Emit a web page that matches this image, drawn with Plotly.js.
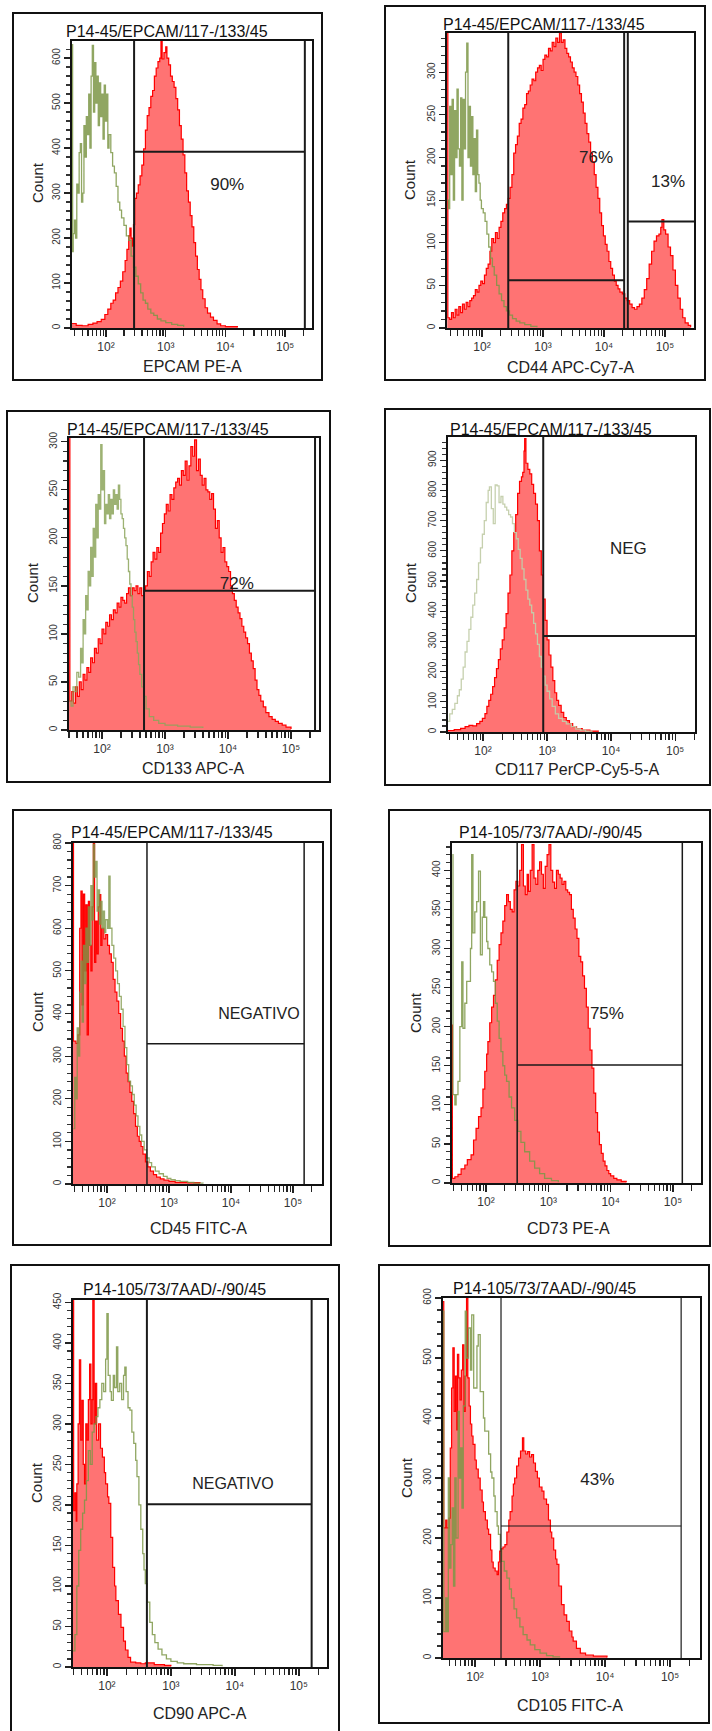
<!DOCTYPE html>
<html>
<head>
<meta charset="utf-8">
<script src="https://cdn.plot.ly/plotly-3.0.1.min.js"></script>
<style>
html,body{margin:0;padding:0;background:#fff;}
#chart{width:712px;height:1731px;}
</style>
</head>
<body>
<div id="chart"></div>
<script>
// ---------- DATA (x = log10 of fluorescence, y = count) ----------
const epcamStained = [[1.43,10],[1.5,6],[1.6,5],[1.7,8],[1.78,11],[1.85,14],[1.92,19],[1.98,30],[2.03,42],[2.08,55],[2.12,62],[2.16,78],[2.2,90],[2.24,104],[2.28,125],[2.32,150],[2.35,175],[2.38,205],[2.4,222],[2.42,200],[2.44,182],[2.46,230],[2.48,288],[2.51,300],[2.54,318],[2.57,338],[2.6,362],[2.63,398],[2.66,440],[2.69,472],[2.72,490],[2.75,515],[2.78,528],[2.81,560],[2.84,578],[2.87,592],[2.9,600],[2.92,640],[2.94,598],[2.97,612],[3.0,625],[3.02,600],[3.05,585],[3.08,560],[3.11,548],[3.14,535],[3.17,510],[3.2,485],[3.23,450],[3.26,420],[3.29,385],[3.32,345],[3.35,305],[3.38,280],[3.41,250],[3.44,225],[3.47,190],[3.5,160],[3.53,130],[3.56,108],[3.59,85],[3.62,65],[3.66,45],[3.7,33],[3.75,24],[3.8,17],[3.86,9],[3.92,5],[4.0,3],[4.2,1]];
const epcamIsotype = [[1.43,630],[1.44,170],[1.45,210],[1.47,240],[1.49,200],[1.51,320],[1.53,300],[1.55,390],[1.57,410],[1.59,280],[1.61,300],[1.63,450],[1.65,380],[1.67,470],[1.69,430],[1.71,520],[1.73,400],[1.75,560],[1.77,628],[1.79,480],[1.81,590],[1.83,500],[1.85,560],[1.87,450],[1.89,545],[1.91,470],[1.93,520],[1.95,420],[1.97,540],[1.99,460],[2.01,520],[2.03,400],[2.05,430],[2.08,390],[2.11,360],[2.14,345],[2.17,315],[2.2,280],[2.23,262],[2.26,245],[2.3,228],[2.34,205],[2.38,195],[2.42,160],[2.46,135],[2.5,115],[2.54,98],[2.58,78],[2.62,62],[2.66,55],[2.7,42],[2.75,33],[2.8,28],[2.86,20],[2.92,16],[3.0,12],[3.1,8],[3.2,6],[3.3,3]];

const cd44Stained = [[1.43,400],[1.44,12],[1.47,10],[1.5,18],[1.53,12],[1.56,22],[1.59,15],[1.62,25],[1.65,18],[1.68,28],[1.71,22],[1.74,30],[1.77,25],[1.8,32],[1.83,35],[1.86,38],[1.89,45],[1.92,42],[1.95,50],[1.98,55],[2.01,52],[2.04,62],[2.07,70],[2.1,75],[2.13,90],[2.16,105],[2.19,100],[2.22,112],[2.25,105],[2.28,118],[2.31,125],[2.34,135],[2.37,140],[2.4,145],[2.43,152],[2.46,165],[2.49,180],[2.52,205],[2.55,215],[2.58,225],[2.61,240],[2.64,245],[2.67,258],[2.7,262],[2.73,275],[2.76,278],[2.79,285],[2.82,292],[2.85,290],[2.88,300],[2.91,305],[2.94,308],[2.97,302],[3.0,315],[3.03,320],[3.06,318],[3.09,328],[3.12,325],[3.15,335],[3.18,330],[3.21,340],[3.24,335],[3.27,346],[3.3,335],[3.33,338],[3.36,328],[3.39,322],[3.42,318],[3.45,312],[3.48,305],[3.51,300],[3.54,295],[3.57,285],[3.6,275],[3.63,265],[3.66,252],[3.69,240],[3.72,228],[3.75,218],[3.78,205],[3.81,195],[3.84,180],[3.87,165],[3.9,152],[3.93,135],[3.96,120],[3.99,108],[4.02,98],[4.05,90],[4.08,78],[4.11,70],[4.14,62],[4.17,55],[4.2,50],[4.23,46],[4.26,42],[4.3,40],[4.34,35],[4.38,32],[4.42,28],[4.46,24],[4.5,22],[4.54,25],[4.58,28],[4.62,35],[4.66,45],[4.7,58],[4.74,75],[4.78,90],[4.82,102],[4.86,108],[4.9,110],[4.93,118],[4.95,127],[4.98,115],[5.01,110],[5.05,95],[5.09,85],[5.13,68],[5.17,50],[5.21,35],[5.25,22],[5.29,12],[5.33,6],[5.38,3],[5.42,1]];
const cd44Isotype = [[1.43,150],[1.45,140],[1.47,260],[1.49,180],[1.51,268],[1.53,150],[1.55,255],[1.57,200],[1.59,280],[1.61,210],[1.63,190],[1.65,270],[1.67,150],[1.69,268],[1.71,210],[1.73,300],[1.75,334],[1.77,200],[1.79,260],[1.81,190],[1.83,248],[1.85,180],[1.87,222],[1.89,160],[1.91,232],[1.93,180],[1.95,170],[1.97,150],[1.99,140],[2.02,135],[2.05,125],[2.08,110],[2.11,95],[2.14,82],[2.17,72],[2.2,62],[2.24,50],[2.28,40],[2.32,32],[2.36,25],[2.4,20],[2.45,15],[2.5,11],[2.56,8],[2.62,6],[2.7,4],[2.8,2],[2.9,1]];

const cd133Stained = [[1.476,330],[1.49,30],[1.52,40],[1.55,28],[1.58,45],[1.61,35],[1.64,50],[1.67,42],[1.7,58],[1.73,52],[1.76,65],[1.79,60],[1.82,75],[1.85,70],[1.88,85],[1.91,80],[1.94,95],[1.97,90],[2.0,105],[2.03,100],[2.06,112],[2.09,108],[2.12,120],[2.15,115],[2.18,125],[2.21,122],[2.24,132],[2.27,128],[2.3,138],[2.33,135],[2.36,132],[2.39,142],[2.42,148],[2.45,140],[2.48,148],[2.51,145],[2.54,150],[2.57,142],[2.6,148],[2.63,140],[2.66,145],[2.69,150],[2.72,165],[2.75,160],[2.78,175],[2.81,185],[2.84,178],[2.87,190],[2.9,185],[2.93,205],[2.96,215],[2.99,225],[3.02,235],[3.05,228],[3.08,245],[3.11,240],[3.14,252],[3.17,258],[3.2,262],[3.23,255],[3.26,270],[3.29,265],[3.32,280],[3.35,260],[3.38,275],[3.41,295],[3.44,285],[3.47,302],[3.5,270],[3.53,282],[3.56,265],[3.59,255],[3.62,262],[3.65,250],[3.68,248],[3.71,240],[3.74,246],[3.77,230],[3.8,210],[3.83,218],[3.86,200],[3.89,185],[3.92,190],[3.95,175],[3.98,170],[4.01,165],[4.04,150],[4.07,142],[4.1,135],[4.13,128],[4.16,122],[4.19,116],[4.22,108],[4.25,102],[4.28,96],[4.31,90],[4.34,80],[4.37,72],[4.4,64],[4.43,52],[4.46,42],[4.49,36],[4.52,30],[4.56,24],[4.6,18],[4.65,14],[4.7,11],[4.75,9],[4.8,7],[4.86,5],[4.92,3],[5.0,1]];
const cd133Isotype = [[1.48,30],[1.51,25],[1.54,45],[1.57,40],[1.6,60],[1.63,55],[1.66,85],[1.68,70],[1.7,115],[1.72,100],[1.74,140],[1.76,125],[1.78,165],[1.8,150],[1.82,190],[1.84,160],[1.86,210],[1.88,180],[1.9,235],[1.92,200],[1.94,245],[1.96,230],[1.98,297],[2.0,250],[2.02,270],[2.04,215],[2.06,235],[2.08,225],[2.1,245],[2.12,220],[2.14,240],[2.16,225],[2.18,250],[2.2,235],[2.22,245],[2.24,230],[2.26,255],[2.28,240],[2.3,225],[2.32,220],[2.34,210],[2.36,200],[2.38,192],[2.4,178],[2.42,165],[2.44,152],[2.46,140],[2.48,128],[2.5,115],[2.52,102],[2.54,92],[2.56,80],[2.58,68],[2.6,58],[2.63,45],[2.66,35],[2.7,22],[2.75,14],[2.82,10],[2.9,7],[3.0,5],[3.2,4],[3.4,3],[3.6,2]];

const cd117Stained = [[1.45,5],[1.55,8],[1.65,12],[1.72,18],[1.78,22],[1.84,20],[1.9,28],[1.95,35],[1.99,45],[2.03,61],[2.06,85],[2.09,105],[2.12,125],[2.15,150],[2.18,180],[2.21,210],[2.24,240],[2.27,275],[2.3,305],[2.33,345],[2.36,392],[2.39,460],[2.42,520],[2.45,600],[2.48,660],[2.51,720],[2.54,790],[2.57,830],[2.6,845],[2.62,860],[2.64,930],[2.65,972],[2.67,890],[2.7,870],[2.73,855],[2.76,820],[2.79,790],[2.82,755],[2.85,700],[2.88,600],[2.91,520],[2.94,440],[2.97,370],[3.0,305],[3.03,255],[3.06,215],[3.09,170],[3.12,130],[3.15,105],[3.18,88],[3.22,65],[3.26,48],[3.3,38],[3.35,28],[3.4,18],[3.46,11],[3.55,6],[3.67,3],[3.8,1]];
const cd117Isotype = [[1.45,35],[1.48,60],[1.52,75],[1.56,95],[1.6,120],[1.63,140],[1.66,175],[1.69,215],[1.72,265],[1.75,300],[1.78,340],[1.81,380],[1.84,420],[1.87,460],[1.9,505],[1.93,560],[1.96,610],[1.99,655],[2.02,700],[2.05,760],[2.08,800],[2.1,812],[2.13,740],[2.16,690],[2.19,818],[2.22,815],[2.25,760],[2.28,780],[2.31,755],[2.34,745],[2.37,735],[2.4,720],[2.43,712],[2.46,690],[2.49,660],[2.52,640],[2.55,605],[2.58,575],[2.61,540],[2.64,505],[2.67,470],[2.7,440],[2.73,420],[2.76,395],[2.79,360],[2.82,325],[2.85,290],[2.88,250],[2.91,215],[2.94,185],[2.97,155],[3.0,135],[3.04,110],[3.08,85],[3.13,60],[3.18,45],[3.24,35],[3.3,27],[3.38,18],[3.45,10],[3.52,6],[3.6,3],[3.7,1]];

const cd45Stained = [[1.452,820],[1.46,335],[1.5,330],[1.53,350],[1.56,600],[1.58,687],[1.6,420],[1.62,680],[1.64,500],[1.66,655],[1.68,350],[1.7,663],[1.72,560],[1.74,500],[1.76,650],[1.78,800],[1.8,520],[1.82,617],[1.84,540],[1.86,650],[1.88,679],[1.9,560],[1.92,600],[1.95,575],[1.98,585],[2.01,560],[2.04,540],[2.07,520],[2.1,480],[2.13,450],[2.16,429],[2.19,400],[2.22,365],[2.25,335],[2.28,300],[2.31,260],[2.34,240],[2.37,215],[2.4,194],[2.43,165],[2.46,135],[2.49,112],[2.52,100],[2.55,88],[2.58,70],[2.62,52],[2.66,40],[2.7,30],[2.75,22],[2.8,16],[2.86,12],[2.92,9],[3.0,6],[3.1,4],[3.3,3],[3.5,2]];
const cd45Isotype = [[1.46,130],[1.48,250],[1.5,200],[1.52,366],[1.54,300],[1.56,450],[1.58,523],[1.6,380],[1.62,560],[1.64,470],[1.66,600],[1.68,520],[1.7,650],[1.72,560],[1.74,700],[1.76,620],[1.78,797],[1.8,720],[1.82,757],[1.84,640],[1.86,690],[1.88,610],[1.9,663],[1.92,600],[1.94,640],[1.96,590],[1.98,620],[2.01,600],[2.03,722],[2.05,600],[2.08,560],[2.11,530],[2.14,500],[2.17,470],[2.2,440],[2.23,410],[2.26,370],[2.29,320],[2.32,280],[2.35,241],[2.38,230],[2.41,210],[2.44,185],[2.47,160],[2.5,135],[2.53,115],[2.56,100],[2.6,80],[2.64,61],[2.68,50],[2.72,40],[2.78,30],[2.84,24],[2.91,18],[2.97,13],[3.03,10],[3.1,8],[3.18,6],[3.3,4],[3.4,2],[3.55,1]];

const cd73Stained = [[1.454,202],[1.46,6],[1.5,8],[1.55,11],[1.6,18],[1.66,23],[1.7,30],[1.76,36],[1.8,55],[1.84,70],[1.88,85],[1.92,96],[1.95,120],[1.98,143],[2.01,165],[2.03,181],[2.06,205],[2.09,225],[2.12,240],[2.15,260],[2.18,285],[2.21,305],[2.24,320],[2.27,335],[2.3,355],[2.33,369],[2.36,360],[2.39,350],[2.42,347],[2.45,375],[2.48,386],[2.51,380],[2.54,400],[2.57,433],[2.6,380],[2.63,369],[2.66,395],[2.68,373],[2.71,400],[2.74,433],[2.77,390],[2.8,382],[2.83,400],[2.86,411],[2.89,395],[2.92,377],[2.95,405],[2.98,420],[3.01,433],[3.04,400],[3.07,385],[3.1,377],[3.13,400],[3.16,395],[3.19,390],[3.22,382],[3.25,386],[3.28,375],[3.31,372],[3.34,369],[3.37,350],[3.4,339],[3.43,325],[3.46,313],[3.49,290],[3.52,283],[3.55,265],[3.58,249],[3.61,225],[3.64,198],[3.67,170],[3.7,147],[3.73,115],[3.76,90],[3.79,65],[3.82,49],[3.85,38],[3.88,28],[3.91,22],[3.94,16],[3.97,12],[4.0,9],[4.05,6],[4.1,4],[4.17,2],[4.25,1]];
const cd73Isotype = [[1.46,420],[1.47,113],[1.5,100],[1.52,113],[1.55,130],[1.58,200],[1.61,283],[1.63,198],[1.66,230],[1.69,258],[1.72,258],[1.75,300],[1.77,420],[1.79,320],[1.82,347],[1.85,360],[1.88,399],[1.91,292],[1.94,340],[1.96,360],[1.98,340],[2.01,309],[2.03,300],[2.06,279],[2.09,270],[2.12,258],[2.15,230],[2.18,207],[2.21,185],[2.24,168],[2.27,150],[2.3,138],[2.33,130],[2.37,110],[2.41,96],[2.46,80],[2.51,66],[2.56,52],[2.62,40],[2.7,28],[2.78,19],[2.86,12],[2.94,6],[3.05,3],[3.16,1]];

const cd90Stained = [[1.47,460],[1.48,193],[1.5,215],[1.52,180],[1.53,226],[1.55,300],[1.57,379],[1.59,280],[1.61,329],[1.63,250],[1.65,226],[1.67,300],[1.69,280],[1.71,330],[1.73,374],[1.75,300],[1.77,330],[1.78,453],[1.8,300],[1.82,350],[1.84,280],[1.87,300],[1.9,270],[1.93,259],[1.96,240],[1.98,226],[2.01,210],[2.03,202],[2.06,160],[2.09,123],[2.12,100],[2.14,82],[2.18,65],[2.22,49],[2.26,32],[2.29,21],[2.33,12],[2.37,6],[2.45,5],[2.53,4],[2.6,5],[2.74,3],[2.9,2],[3.0,1]];
const cd90Isotype = [[1.47,20],[1.5,40],[1.53,100],[1.56,144],[1.59,170],[1.62,190],[1.65,206],[1.68,230],[1.71,267],[1.74,250],[1.77,290],[1.8,300],[1.83,309],[1.86,320],[1.89,330],[1.92,350],[1.95,340],[1.98,380],[2.0,436],[2.02,360],[2.05,340],[2.07,329],[2.1,360],[2.12,345],[2.15,395],[2.17,340],[2.2,350],[2.23,330],[2.26,360],[2.28,370],[2.3,340],[2.33,320],[2.36,317],[2.39,290],[2.42,276],[2.45,255],[2.47,235],[2.5,200],[2.53,170],[2.56,140],[2.58,120],[2.6,103],[2.63,80],[2.67,55],[2.71,40],[2.75,30],[2.8,22],[2.86,15],[2.93,10],[3.0,7],[3.1,5],[3.2,4],[3.4,3],[3.66,2],[3.8,1]];

const cd105Stained = [[1.508,594],[1.52,217],[1.55,230],[1.57,217],[1.6,233],[1.62,350],[1.64,450],[1.66,517],[1.68,411],[1.7,470],[1.72,380],[1.73,506],[1.75,467],[1.77,430],[1.79,480],[1.81,522],[1.83,411],[1.85,470],[1.87,600],[1.89,467],[1.91,420],[1.93,390],[1.95,370],[1.97,356],[2.0,330],[2.02,315],[2.05,300],[2.08,280],[2.11,260],[2.13,244],[2.16,230],[2.19,215],[2.21,206],[2.24,180],[2.26,160],[2.28,150],[2.31,145],[2.34,139],[2.36,160],[2.38,178],[2.4,182],[2.43,185],[2.46,189],[2.49,210],[2.52,230],[2.54,244],[2.57,270],[2.59,290],[2.61,300],[2.64,320],[2.67,333],[2.7,345],[2.73,367],[2.75,345],[2.78,340],[2.81,344],[2.84,335],[2.87,339],[2.9,325],[2.93,311],[2.96,300],[2.99,285],[3.03,278],[3.06,265],[3.1,256],[3.13,230],[3.16,210],[3.18,200],[3.21,180],[3.24,165],[3.26,156],[3.29,120],[3.33,89],[3.37,72],[3.41,61],[3.45,45],[3.49,35],[3.51,28],[3.56,16],[3.62,8],[3.7,5],[3.82,3],[4.03,1]];
const cd105Isotype = [[1.508,578],[1.52,44],[1.55,100],[1.57,44],[1.59,300],[1.61,150],[1.63,189],[1.65,250],[1.67,120],[1.69,300],[1.71,200],[1.74,411],[1.76,300],[1.78,350],[1.8,250],[1.82,420],[1.85,578],[1.87,500],[1.9,550],[1.93,480],[1.95,572],[1.98,450],[2.0,450],[2.03,520],[2.05,539],[2.08,444],[2.1,444],[2.13,400],[2.15,378],[2.18,378],[2.21,340],[2.24,310],[2.26,300],[2.29,270],[2.31,244],[2.34,220],[2.36,206],[2.39,180],[2.41,161],[2.45,145],[2.49,133],[2.53,115],[2.56,100],[2.6,82],[2.64,67],[2.69,52],[2.74,39],[2.8,30],[2.85,22],[2.92,14],[3.0,8],[3.1,4],[3.2,2],[3.3,1]];

// gate segments [x0(log10), y0, x1(log10), y1]
const epcamGates = [[2.47,0,2.47,700],[2.47,392,5.33,392],[5.33,0,5.33,700]];
const cd44Gates = [[2.43,0,2.43,400],[2.43,56,4.33,56],[4.33,0,4.33,400],[4.39,0,4.39,400],[4.39,125,5.475,125]];
const cd133Gates = [[2.667,0,2.667,350],[2.667,145,5.381,145],[5.381,0,5.381,350]];
const cd117Gates = [[2.94,0,2.94,1000],[2.94,318,5.31,318]];
const cd45Gates = [[2.645,0,2.645,900],[2.645,329,5.18,329],[5.18,0,5.18,900]];
const cd73Gates = [[2.5,0,2.5,500],[2.5,151,5.15,151],[5.15,0,5.15,500]];
const cd90Gates = [[2.625,0,2.625,500],[2.625,201,5.2,201],[5.2,0,5.2,500]];
const cd105Gates = [[2.4,0,2.4,700],[2.4,220,5.17,220],[5.17,0,5.17,700]];

// region labels [x(log10), y, text]
const epcamLabels = [[4.03,316,'90%']];
const cd44Labels = [[3.87,198,'76%'],[5.05,170,'13%']];
const cd133Labels = [[4.14,151,'72%']];
const cd117Labels = [[4.27,603,'NEG']];
const cd45Labels = [[4.45,397,'NEGATIVO']];
const cd73Labels = [[3.94,215,'75%']];
const cd90Labels = [[3.97,225,'NEGATIVO']];
const cd105Labels = [[3.88,295,'43%']];

const decadeLabels = ['10¹','10²','10³','10⁴','10⁵'];
const sampleTitles = ['P14-45/EPCAM/117-/133/45','P14-45/EPCAM/117-/133/45','P14-45/EPCAM/117-/133/45','P14-45/EPCAM/117-/133/45','P14-45/EPCAM/117-/133/45','P14-105/73/7AAD/-/90/45','P14-105/73/7AAD/-/90/45','P14-105/73/7AAD/-/90/45'];
const markerTitles = ['EPCAM PE-A','CD44 APC-Cy7-A','CD133 APC-A','CD117 PerCP-Cy5-5-A','CD45 FITC-A','CD73 PE-A','CD90 APC-A','CD105 FITC-A'];
const yAxisTitle = 'Count';

// ---------- LAYOUT (pixel geometry) ----------
const W = 712, H = 1731;
const panels = [
  {st:epcamStained, iso:epcamIsotype, gates:epcamGates, labels:epcamLabels, box:[13,13,322,380], plot:[72,41,312,328], xr:[1.43,5.45], ymax:638, dt:100, mdt:20, title:[167,32], xt:[192,366], ct:[37,183], green:'rgba(125,150,70,0.85)', gw:2, lsz:17},
  {st:cd44Stained, iso:cd44Isotype, gates:cd44Gates, labels:cd44Labels, box:[385,6,705,380], plot:[447,33,694,328], xr:[1.426,5.475], ymax:346, dt:50, mdt:10, title:[544,25], xt:[570,367], ct:[409,180], green:'rgba(125,150,70,0.85)', gw:2, lsz:17},
  {st:cd133Stained, iso:cd133Isotype, gates:cd133Gates, labels:cd133Labels, box:[7,411,330,782], plot:[69,438,319,730], xr:[1.476,5.444], ymax:304, dt:50, mdt:10, title:[168,429], xt:[193,768], ct:[32,583], green:'rgba(140,165,90,0.85)', gw:2, lsz:17},
  {st:cd117Stained, iso:cd117Isotype, gates:cd117Gates, labels:cd117Labels, box:[385,409,710,785], plot:[448,437,695,732], xr:[1.453,5.31], ymax:977, dt:100, mdt:20, title:[551,429], xt:[577,770], ct:[410,583], green:'rgba(195,205,170,0.95)', gw:2, lsz:17},
  {st:cd45Stained, iso:cd45Isotype, gates:cd45Gates, labels:cd45Labels, box:[13,810,331,1245], plot:[73,843,322,1184], xr:[1.452,5.468], ymax:800, dt:100, mdt:20, title:[172,832], xt:[198,1228], ct:[37,1012], green:'rgba(125,150,70,0.8)', gw:1.5, lsz:16},
  {st:cd73Stained, iso:cd73Isotype, gates:cd73Gates, labels:cd73Labels, box:[389,810,710,1246], plot:[452,843,701,1183], xr:[1.454,5.45], ymax:435, dt:50, mdt:10, title:[550,832], xt:[568,1228], ct:[415,1012], green:'rgba(125,150,70,0.85)', gw:1.5, lsz:17},
  {st:cd90Stained, iso:cd90Isotype, gates:cd90Gates, labels:cd90Labels, box:[11,1265,339,1745], plot:[73,1300,327,1667], xr:[1.47,5.44], ymax:453, dt:50, mdt:10, title:[174,1289], xt:[200,1713], ct:[36,1483], green:'rgba(125,150,70,0.85)', gw:2, lsz:16},
  {st:cd105Stained, iso:cd105Isotype, gates:cd105Gates, labels:cd105Labels, box:[379,1265,709,1723], plot:[443,1298,700,1658], xr:[1.508,5.46], ymax:600, dt:100, mdt:20, title:[544,1288], xt:[570,1705], ct:[406,1478], green:'rgba(125,150,70,0.85)', gw:1.2, lsz:17}
];

const FONT = 'Liberation Sans, Arial, sans-serif';
const px = v => v / W;
const py = v => 1 - v / H;
const pow = v => Math.pow(10, v);

const traces = [];
const layout = {
  width: W, height: H,
  margin: {l:0, r:0, t:0, b:0},
  paper_bgcolor: '#fff', plot_bgcolor: '#fff',
  showlegend: false,
  shapes: [], annotations: []
};

panels.forEach((p, i) => {
  const s = i === 0 ? '' : String(i + 1);
  const xa = 'x' + s, ya = 'y' + s;

  // stained (red filled)
  traces.push({
    type:'scatter', mode:'lines', xaxis:xa, yaxis:ya,
    x: p.st.map(d => pow(d[0])), y: p.st.map(d => d[1]),
    line:{color:'#FF0000', width:1.2, shape:'hv'},
    fill:'tozeroy', fillcolor:'#FF7373', hoverinfo:'skip'
  });
  // isotype control (green outline)
  traces.push({
    type:'scatter', mode:'lines', xaxis:xa, yaxis:ya,
    x: p.iso.map(d => pow(d[0])), y: p.iso.map(d => d[1]),
    line:{color:p.green, width:1.3, shape:'hv'}, hoverinfo:'skip'
  });
  // gates
  const gx = [], gy = [];
  p.gates.forEach(g => { gx.push(pow(g[0]), pow(g[2]), null); gy.push(g[1], g[3], null); });
  traces.push({
    type:'scatter', mode:'lines', xaxis:xa, yaxis:ya, x:gx, y:gy,
    line:{color:'#1a1a1a', width:p.gw}, hoverinfo:'skip'
  });
  // region labels
  traces.push({
    type:'scatter', mode:'text', xaxis:xa, yaxis:ya,
    x: p.labels.map(l => pow(l[0])), y: p.labels.map(l => l[1]), text: p.labels.map(l => l[2]),
    textposition:'middle center', cliponaxis:false,
    textfont:{family:FONT, size:p.lsz, color:'#222'}, hoverinfo:'skip'
  });

  // x ticks: decades labelled as major ticks, intermediate values as minor ticks
  const major = [], majorText = [], minorVals = [];
  for (let d = 1; d <= 5; d++) {
    for (let m = 1; m <= 9; m++) {
      const v = m * Math.pow(10, d);
      const lv = Math.log10(v);
      if (lv >= p.xr[0] && lv <= p.xr[1]) {
        if (m === 1) { major.push(v); majorText.push(decadeLabels[d - 1]); }
        else minorVals.push(v);
      }
    }
  }

  layout['xaxis' + s] = {
    domain:[px(p.plot[0]), px(p.plot[2])], anchor:ya, type:'log', range:p.xr,
    showline:true, mirror:true, linecolor:'#111', linewidth:2,
    ticks:'outside', ticklen:7, tickwidth:1.3, tickcolor:'#222',
    tickmode:'array', tickvals:major, ticktext:majorText,
    minor:{tickmode:'array', tickvals:minorVals, ticks:'outside', ticklen:6, tickwidth:1.2, tickcolor:'#222', showgrid:false},
    tickfont:{family:FONT, size:12, color:'#333'},
    showgrid:false, zeroline:false, fixedrange:true
  };
  layout['yaxis' + s] = {
    domain:[py(p.plot[3]), py(p.plot[1])], anchor:xa, range:[0, p.ymax],
    showline:true, mirror:true, linecolor:'#111', linewidth:2,
    ticks:'outside', ticklen:6, tickwidth:1.2, tickcolor:'#222',
    tick0:0, dtick:p.dt, tickangle:-90,
    tickfont:{family:FONT, size:10, color:'#333'},
    minor:{dtick:p.mdt, ticks:'outside', ticklen:4, tickcolor:'#333', tickwidth:1.2, showgrid:false},
    showgrid:false, zeroline:false, fixedrange:true
  };

  // panel frame
  layout.shapes.push({
    type:'rect', xref:'paper', yref:'paper',
    x0:px(p.box[0]), x1:px(p.box[2]), y0:py(p.box[3]), y1:py(p.box[1]),
    line:{color:'#111', width:2}, fillcolor:'rgba(0,0,0,0)', layer:'below'
  });

  // texts
  layout.annotations.push({
    xref:'paper', yref:'paper', x:px(p.title[0]), y:py(p.title[1]),
    xanchor:'center', yanchor:'middle', showarrow:false,
    text:sampleTitles[i], font:{family:FONT, size:16, color:'#111'}
  });
  layout.annotations.push({
    xref:'paper', yref:'paper', x:px(p.xt[0]), y:py(p.xt[1]),
    xanchor:'center', yanchor:'middle', showarrow:false,
    text:markerTitles[i], font:{family:FONT, size:16, color:'#222'}
  });
  layout.annotations.push({
    xref:'paper', yref:'paper', x:px(p.ct[0]), y:py(p.ct[1]),
    xanchor:'center', yanchor:'middle', showarrow:false, textangle:-90,
    text:yAxisTitle, font:{family:FONT, size:15, color:'#222'}
  });
});

Plotly.newPlot('chart', traces, layout, {displayModeBar:false, staticPlot:true});
</script>
</body>
</html>
